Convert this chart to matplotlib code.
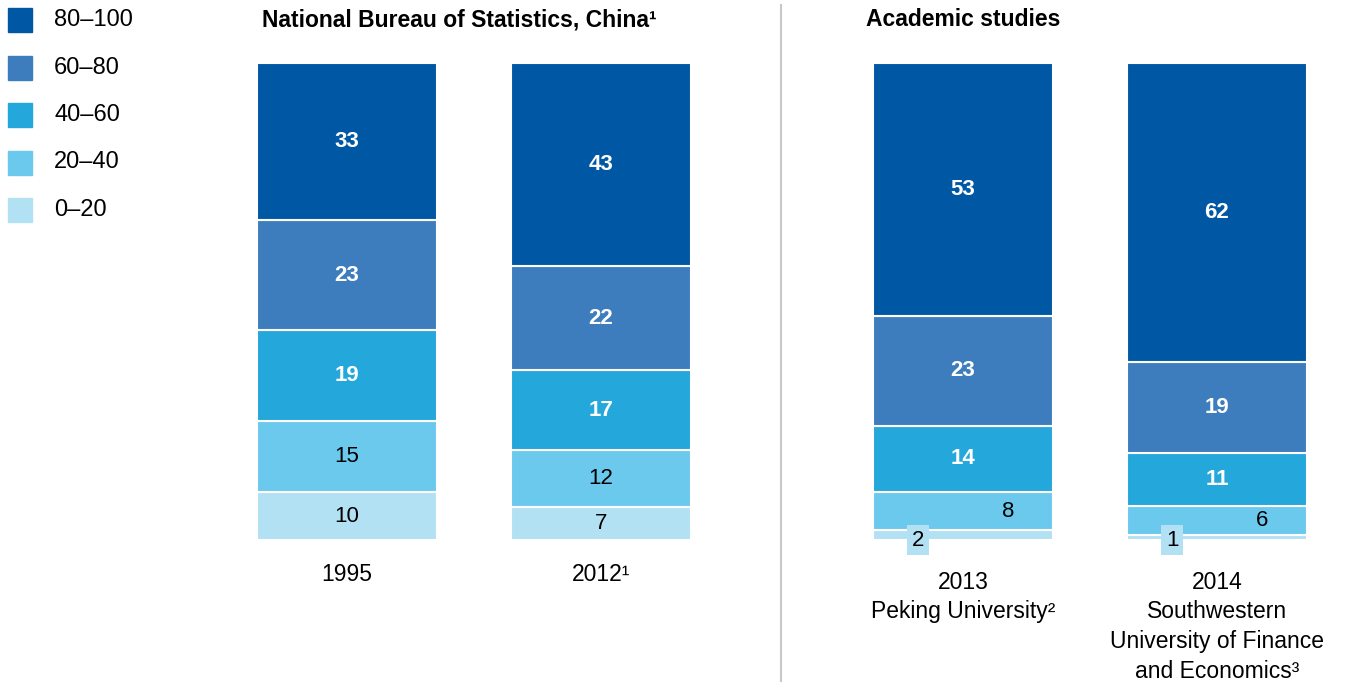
import matplotlib

matplotlib.use("Agg")
import matplotlib.pyplot as plt
import numpy as np
from matplotlib.patches import Rectangle

plt.rcParams["font.family"] = ["Liberation Sans", "DejaVu Sans"]

# income brackets, bottom to top
brackets = ["0–20", "20–40", "40–60", "60–80", "80–100"]
colors = ["#B3E1F4", "#6CC9EE", "#24A7DB", "#3D7DBD", "#0058A4"]

sources = [
    "1995",
    "2012¹",
    "2013\nPeking University²",
    "2014\nSouthwestern\nUniversity of Finance\nand Economics³",
]

share_0_20 = [10, 7, 2, 1]
share_20_40 = [15, 12, 8, 6]
share_40_60 = [19, 17, 14, 11]
share_60_80 = [23, 22, 23, 19]
share_80_100 = [33, 43, 53, 62]

shares = np.array([share_0_20, share_20_40, share_40_60, share_60_80, share_80_100], dtype=float)
totals = shares.sum(axis=0)
heights = shares / totals * 100

W, H = 1346, 682
fig = plt.figure(figsize=(W / 100, H / 100), dpi=100)
fig.patch.set_facecolor("white")

ax = fig.add_axes([257 / W, (H - 540) / H, (1307 - 257) / W, (540 - 63) / H])
x = np.array([0, 1, 2.425, 3.425])
width = 0.709
ax.set_xlim(x[0] - width / 2, x[-1] + width / 2)
ax.set_ylim(0, 100)

# labels of the thin bottom segments are moved sideways
label_offset = {(0, 2): -0.177, (1, 2): 0.177, (0, 3): -0.177, (1, 3): 0.177}

bottom = np.zeros(len(x))
for i, (name, col) in enumerate(zip(brackets, colors)):
    ax.bar(x, heights[i], width, bottom=bottom, color=col, edgecolor="white", linewidth=1.5)
    for j in range(len(x)):
        yc = bottom[j] + heights[i][j] / 2
        txt = f"{int(shares[i][j])}"
        if i >= 2:
            ax.text(x[j], yc, txt, ha="center", va="center", color="white",
                    fontsize=16, fontweight="bold")
        else:
            off = label_offset.get((i, j), 0)
            kw = {}
            if (i, j) in label_offset and i == 0:
                kw["bbox"] = dict(boxstyle="square,pad=0.2", fc="#B3E1F4", ec="none")
                yc = 0
            ax.text(x[j] + off, yc, txt, ha="center", va="center", color="black",
                    fontsize=16, **kw)
    bottom += heights[i]

ax.set_xticks(x, sources, fontsize=16.5, linespacing=1.37)
ax.tick_params(axis="x", length=0)
for k, tick in enumerate(ax.xaxis.get_major_ticks()):
    tick.set_pad(16.5 if k < 2 else 22)
ax.set_yticks([])
for s in ax.spines.values():
    s.set_visible(False)

# legend
for k in range(len(brackets)):
    idx = len(brackets) - 1 - k
    yc = 20 + k * 47.5
    fig.add_artist(Rectangle((8 / W, (H - yc - 12) / H), 24 / W, 24 / H,
                             transform=fig.transFigure, color=colors[idx]))
    fig.text(54 / W, (H - yc) / H, brackets[idx], fontsize=17, va="center", ha="left")

# group titles and divider
fig.text(262 / W, (H - 20) / H, "National Bureau of Statistics, China¹", fontsize=16.5,
         fontweight="bold", va="center", ha="left")
fig.text(866 / W, (H - 20) / H, "Academic studies", fontsize=16.5,
         fontweight="bold", va="center", ha="left")
fig.add_artist(plt.Line2D([781 / W, 781 / W], [0, (H - 5) / H], transform=fig.transFigure,
                          color="#C8C8C8", linewidth=1.5))

fig.savefig("out.png", dpi=100)
